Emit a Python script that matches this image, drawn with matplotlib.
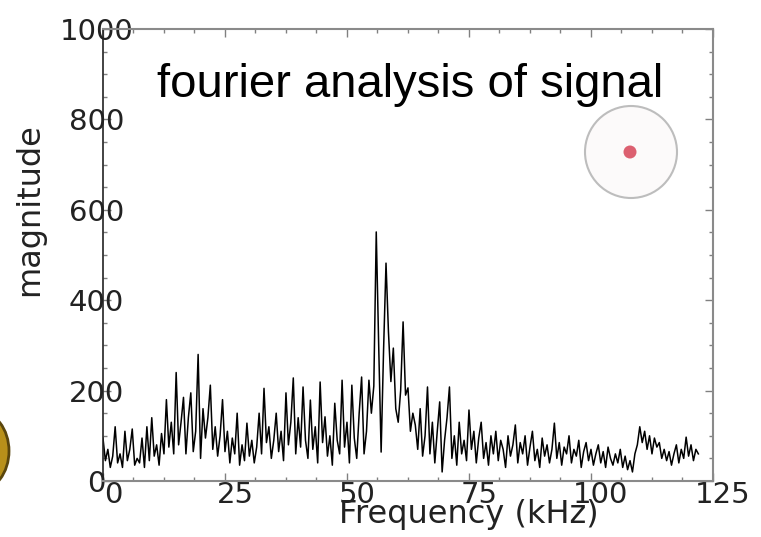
import numpy as np
import matplotlib
matplotlib.use('Agg')
import matplotlib.pyplot as plt
from matplotlib.patches import Ellipse
from matplotlib.ticker import MultipleLocator
from matplotlib.transforms import ScaledTranslation

# spectrum magnitude, one value every 0.5 kHz from 0 to 122 kHz
magnitude = [
    95, 45, 70, 30, 55, 120, 40, 60, 30, 110,
    45, 70, 115, 35, 50, 40, 95, 30, 120, 45,
    140, 55, 80, 35, 105, 60, 180, 75, 130, 60,
    240, 80, 130, 185, 60, 140, 195, 65, 110, 280,
    50, 160, 95, 140, 212, 70, 120, 55, 100, 180,
    65, 110, 40, 95, 60, 150, 35, 80, 45, 128,
    55, 90, 40, 75, 150, 60, 205, 85, 120, 50,
    90, 150, 65, 110, 45, 195, 80, 130, 228, 60,
    140, 75, 208, 90, 50, 179, 70, 120, 40, 219,
    85, 142, 55, 100, 35, 172, 90, 60, 223, 75,
    130, 40, 212, 95, 50, 150, 230, 60, 110, 223,
    150, 210, 551, 300, 64, 290, 482, 330, 220, 294,
    160, 130, 200, 352, 190, 206, 110, 150, 124, 70,
    160, 55, 100, 208, 60, 130, 40, 110, 175, 20,
    90, 140, 208, 50, 100, 35, 130, 60, 90, 45,
    157, 70, 110, 40, 95, 130, 50, 85, 35, 100,
    60, 110, 45, 90, 70, 30, 100, 55, 80, 124,
    40, 85, 60, 100, 35, 75, 110, 45, 70, 30,
    95, 55, 80, 40, 70, 128, 50, 85, 35, 75,
    60, 100, 40, 70, 55, 90, 30, 65, 85, 45,
    70, 35, 60, 80, 40, 65, 30, 75, 50, 35,
    60, 40, 70, 30, 55, 25, 45, 20, 60, 80,
    120, 85, 110, 70, 100, 60, 95, 75, 85, 50,
    70, 45, 65, 35, 60, 80, 40, 70, 50, 97,
    55, 80, 45, 70, 60,
]
freq = np.arange(len(magnitude)) * 0.5

x_ticks = [0, 25, 50, 75, 100, 125]
y_ticks = [0, 200, 400, 600, 800, 1000]

fig = plt.figure(figsize=(7.61, 5.37), dpi=100)
ax = fig.add_axes([0.1353, 0.1043, 0.8016, 0.8417])

ax.plot(freq, magnitude, color='black', lw=1.1)

ax.set_xlim(0, 125)
ax.set_ylim(0, 1000)
ax.set_xticks(x_ticks)
ax.set_yticks(y_ticks)
ax.xaxis.set_minor_locator(MultipleLocator(6.25))
ax.yaxis.set_minor_locator(MultipleLocator(50))

ax.tick_params(which='both', direction='in', top=True, right=True,
               colors='#808080', labelcolor='#222222', labelsize=21)
ax.tick_params(which='major', length=6, width=1)
ax.tick_params(which='minor', length=3, width=1)
ax.tick_params(axis='x', pad=0)
ax.tick_params(axis='y', pad=6)

for lab in ax.get_yticklabels():
    lab.set_horizontalalignment('center')
    lab.set_transform(lab.get_transform() + ScaledTranslation(0.02, 0, fig.dpi_scale_trans))
for lab in ax.get_xticklabels():
    lab.set_transform(lab.get_transform() + ScaledTranslation(0.10, 0, fig.dpi_scale_trans))

for side in ['top', 'right', 'bottom']:
    ax.spines[side].set_color('#8a8a8a')
    ax.spines[side].set_linewidth(1.5)
ax.spines['left'].set_color('#222222')
ax.spines['left'].set_linewidth(1.2)

fig.text(469 / 761, 1 - 515 / 537, 'Frequency (kHz)', fontsize=23,
         ha='center', va='center', color='#222222')
fig.text(30 / 761, 1 - 210 / 537, 'magnitude', fontsize=23, rotation=90,
         ha='center', va='center', color='#222222')
fig.text(410 / 761, 1 - 85 / 537, 'fourier analysis of signal',
         fontsize=34, family='Liberation Sans', ha='center', va='center')

# indicator circle with red dot
fig.patches.append(Ellipse((631 / 761, 1 - 152 / 537), 92 / 761, 92 / 537,
                           transform=fig.transFigure, facecolor='#fcfafa',
                           edgecolor='#bdbdbd', lw=1.5))
fig.patches.append(Ellipse((630 / 761, 1 - 152 / 537), 13 / 761, 13 / 537,
                           transform=fig.transFigure, facecolor='#dc6070',
                           edgecolor='none'))
# gold blob cut off at the left edge
fig.patches.append(Ellipse((-22 / 761, 1 - 451 / 537), 62 / 761, 80 / 537,
                           transform=fig.transFigure, facecolor='#b8901a',
                           edgecolor='#5a460c', lw=2))

fig.savefig('out.png', dpi=100)
